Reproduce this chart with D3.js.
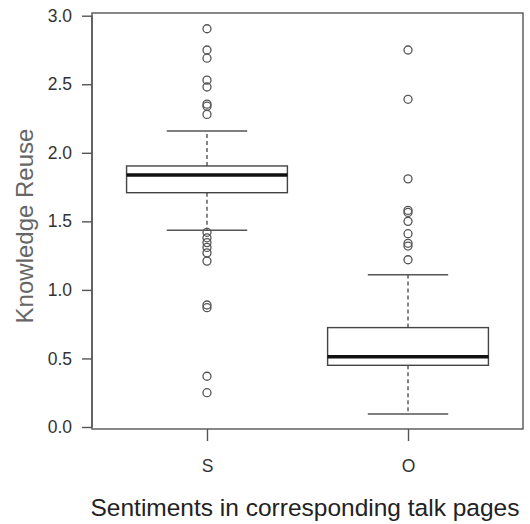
<!DOCTYPE html>
<html><head><meta charset="utf-8">
<script src="https://cdn.jsdelivr.net/npm/d3@7"></script>
<style>body{margin:0;background:#fff}svg{display:block}text{font-family:"Liberation Sans",Arial,sans-serif}</style>
</head><body><svg id="c" width="530" height="524"></svg>
<script>
const categories = ["S", "O"];
const whiskerLo = [1.435, 0.095];
const q1 = [1.709, 0.45];
const median = [1.838, 0.513];
const q3 = [1.904, 0.725];
const whiskerHi = [2.159, 1.11];
const outliersS = [2.905, 2.75, 2.69, 2.53, 2.48, 2.355, 2.34, 2.28, 1.42, 1.38, 1.345, 1.31, 1.27, 1.21, 0.89, 0.87, 0.37, 0.25];
const outliersO = [2.75, 2.39, 1.81, 1.58, 1.565, 1.50, 1.41, 1.34, 1.32, 1.22];
const yTicks = [0.0, 0.5, 1.0, 1.5, 2.0, 2.5, 3.0];
const xTitle = "Sentiments in corresponding talk pages";
const yTitle = "Knowledge Reuse";

const outliers = [outliersS, outliersO];
const svg = d3.select("#c");
const L = 92, R = 523, T = 13, B = 429;
const x = d3.scaleLinear().domain([0.428, 2.572]).range([L, R]);
const y = d3.scaleLinear().domain([-0.0146, 3.0197]).range([B, T]);
const line = "#444";

// frame
svg.append("rect").attr("x", L).attr("y", T).attr("width", R - L).attr("height", B - T)
  .attr("fill", "none").attr("stroke", "#555").attr("stroke-width", 1.4);

// y axis
const ya = svg.append("g").attr("transform", `translate(${L},0)`)
  .call(d3.axisLeft(y).tickValues(yTicks).tickFormat(d3.format(".1f")).tickSize(10).tickPadding(10));
ya.select(".domain").attr("d", `M0,${y(0)}V${y(3)}`).attr("stroke", "#555").attr("stroke-width", 1.4);
ya.selectAll(".tick line").attr("stroke", "#555").attr("stroke-width", 1.4);
ya.selectAll(".tick text").attr("font-size", 17.5).attr("fill", "#333").attr("font-family", "Liberation Sans, Arial, sans-serif");

// x axis
const xa = svg.append("g").attr("transform", `translate(0,${B})`)
  .call(d3.axisBottom(x).tickValues([1, 2]).tickFormat((d, i) => categories[i]).tickSize(12).tickPadding(19));
xa.select(".domain").remove();
xa.selectAll(".tick line").attr("stroke", "#555").attr("stroke-width", 1.4);
xa.selectAll(".tick text").attr("font-size", 17.5).attr("fill", "#333").attr("font-family", "Liberation Sans, Arial, sans-serif");

const bw = 0.8, cw = 0.4;
categories.forEach((c, i) => {
  const cx = x(i + 1);
  const g = svg.append("g");
  // whiskers dashed
  g.append("line").attr("x1", cx).attr("x2", cx).attr("y1", y(q3[i])).attr("y2", y(whiskerHi[i]))
    .attr("stroke", line).attr("stroke-width", 1.3).attr("stroke-dasharray", "4,3");
  g.append("line").attr("x1", cx).attr("x2", cx).attr("y1", y(q1[i])).attr("y2", y(whiskerLo[i]))
    .attr("stroke", line).attr("stroke-width", 1.3).attr("stroke-dasharray", "4,3");
  // caps
  [whiskerHi[i], whiskerLo[i]].forEach(v => {
    g.append("line").attr("x1", x(i + 1 - cw / 2)).attr("x2", x(i + 1 + cw / 2))
      .attr("y1", y(v)).attr("y2", y(v)).attr("stroke", "#555").attr("stroke-width", 1.4);
  });
  // box
  g.append("rect").attr("x", x(i + 1 - bw / 2)).attr("width", x(i + 1 + bw / 2) - x(i + 1 - bw / 2))
    .attr("y", y(q3[i])).attr("height", y(q1[i]) - y(q3[i]))
    .attr("fill", "#fff").attr("stroke", line).attr("stroke-width", 1.4);
  // median
  g.append("line").attr("x1", x(i + 1 - bw / 2)).attr("x2", x(i + 1 + bw / 2))
    .attr("y1", y(median[i])).attr("y2", y(median[i])).attr("stroke", "#111").attr("stroke-width", 3.5);
  // outliers
  g.selectAll("circle").data(outliers[i]).join("circle")
    .attr("cx", cx).attr("cy", d => y(d)).attr("r", 4)
    .attr("fill", "none").attr("stroke", "#555").attr("stroke-width", 1.3);
});

// titles
svg.append("text").attr("x", 305).attr("y", 516).attr("text-anchor", "middle")
  .attr("font-size", 24.5).attr("fill", "#222").text(xTitle);
svg.append("text").attr("transform", "translate(33,226) rotate(-90)").attr("text-anchor", "middle")
  .attr("font-size", 24).attr("fill", "#666").text(yTitle);
</script></body></html>
